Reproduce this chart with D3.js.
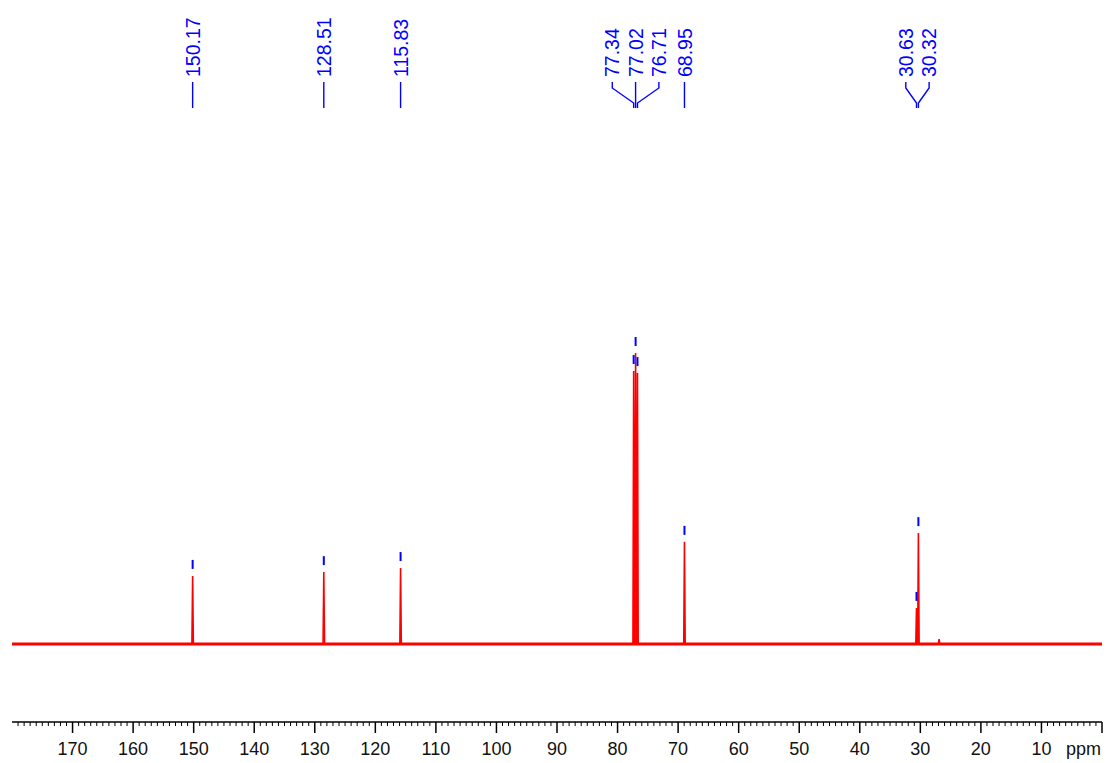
<!DOCTYPE html>
<html>
<head>
<meta charset="utf-8">
<script src="https://cdn.jsdelivr.net/npm/d3@7"></script>
<style>
  html, body { margin: 0; padding: 0; background: #fff; }
  svg { display: block; }
  text { font-family: "Liberation Sans", Arial, Helvetica, sans-serif; }
</style>
</head>
<body>
<svg id="chart" width="1108" height="763"></svg>
<script>
// ---- data ----
const peakPpm    = [150.17, 128.51, 115.83, 77.34, 77.02, 76.71, 68.95, 30.63, 30.32];
const peakHeight = [23.4,   24.7,   26.1,   93.8,  100.0, 93.1,  35.1,  12.4,  38.1];
const peakLabels = ["150.17", "128.51", "115.83", "77.34", "77.02", "76.71", "68.95", "30.63", "30.32"];
const labelGroups = [[0], [1], [2], [3, 4, 5], [6], [7, 8]];
const minorPeakPpm = [26.9];
const minorPeakHeight = [1.7];
const majorTicks = [170, 160, 150, 140, 130, 120, 110, 100, 90, 80, 70, 60, 50, 40, 30, 20, 10];
const minorTicks = d3.range(179, 0, -1);
const axisUnit = "ppm";

// ---- layout ----
const W = 1108, H = 763;
const svg = d3.select("#chart");
const x = d3.scaleLinear().domain([180, 0]).range([12, 1102]);
const y = d3.scaleLinear().domain([0, 100]).range([644, 353]);
const red = "#ff0000", blue = "#0000ff";

// spectrum points
const allPeaks = peakPpm.map((p, i) => ({p, h: peakHeight[i]}))
  .concat(minorPeakPpm.map((p, i) => ({p, h: minorPeakHeight[i]})))
  .sort((a, b) => b.p - a.p);
const pts = [{p: 180, h: 0}];
const hw = 0.12;
allPeaks.forEach(d => {
  pts.push({p: d.p + hw, h: 0}, {p: d.p, h: d.h}, {p: d.p - hw, h: 0});
});
pts.push({p: 0, h: 0});

// baseline band (noise thickness)
svg.append("line")
  .attr("x1", x(180)).attr("x2", x(0))
  .attr("y1", y(0)).attr("y2", y(0))
  .attr("stroke", red).attr("stroke-width", 3.2);

svg.append("path")
  .datum(pts)
  .attr("fill", "none")
  .attr("stroke", red)
  .attr("stroke-width", 1.6)
  .attr("stroke-linejoin", "miter")
  .attr("d", d3.line().x(d => x(d.p)).y(d => y(d.h)));

// peak markers
svg.append("g").selectAll("line")
  .data(peakPpm.map((p, i) => ({p, h: peakHeight[i]})))
  .join("line")
  .attr("x1", d => x(d.p)).attr("x2", d => x(d.p))
  .attr("y1", d => y(d.h) - 16).attr("y2", d => y(d.h) - 7)
  .attr("stroke", blue).attr("stroke-width", 2);

// peak labels
const spacing = 23.3;
const gLab = svg.append("g");
labelGroups.forEach(grp => {
  const px = grp.map(i => x(peakPpm[i]));
  const cx = d3.mean(px);
  grp.forEach((idx, k) => {
    const lx = grp.length === 1 ? px[k] : cx + (k - (grp.length - 1) / 2) * spacing;
    const pxk = px[k];
    const path = d3.path();
    if (grp.length === 1) {
      path.moveTo(lx, 82); path.lineTo(lx, 108);
    } else {
      path.moveTo(lx, 82); path.lineTo(lx, 88); path.lineTo(pxk, 103); path.lineTo(pxk, 108);
    }
    gLab.append("path").attr("d", path.toString())
      .attr("fill", "none").attr("stroke", blue).attr("stroke-width", 1.4);
    gLab.append("text")
      .attr("transform", `translate(${lx},77) rotate(-90)`)
      .attr("dy", "0.36em")
      .attr("fill", blue)
      .attr("font-size", 19.5)
      .text(peakLabels[idx]);
  });
});

// axis
const axY = 722;
const gAx = svg.append("g");
gAx.append("line").attr("x1", x(180)).attr("x2", x(0))
  .attr("y1", axY).attr("y2", axY).attr("stroke", "#000").attr("stroke-width", 1.5);
gAx.selectAll("line.minor").data(minorTicks.filter(v => v % 10 !== 0)).join("line")
  .attr("class", "minor")
  .attr("x1", d => x(d)).attr("x2", d => x(d))
  .attr("y1", axY).attr("y2", axY + 4)
  .attr("stroke", "#000").attr("stroke-width", 1);
gAx.selectAll("line.major").data(majorTicks.concat([0])).join("line")
  .attr("class", "major")
  .attr("x1", d => x(d)).attr("x2", d => x(d))
  .attr("y1", axY).attr("y2", axY + 11)
  .attr("stroke", "#000").attr("stroke-width", 1.5);
gAx.selectAll("text.tl").data(majorTicks).join("text")
  .attr("class", "tl")
  .attr("x", d => x(d)).attr("y", 755)
  .attr("text-anchor", "middle")
  .attr("font-size", 18)
  .attr("fill", "#111")
  .text(d => d);
gAx.append("text")
  .attr("x", 1101).attr("y", 755)
  .attr("text-anchor", "end")
  .attr("font-size", 18)
  .attr("fill", "#111")
  .text(axisUnit);
</script>
</body>
</html>
